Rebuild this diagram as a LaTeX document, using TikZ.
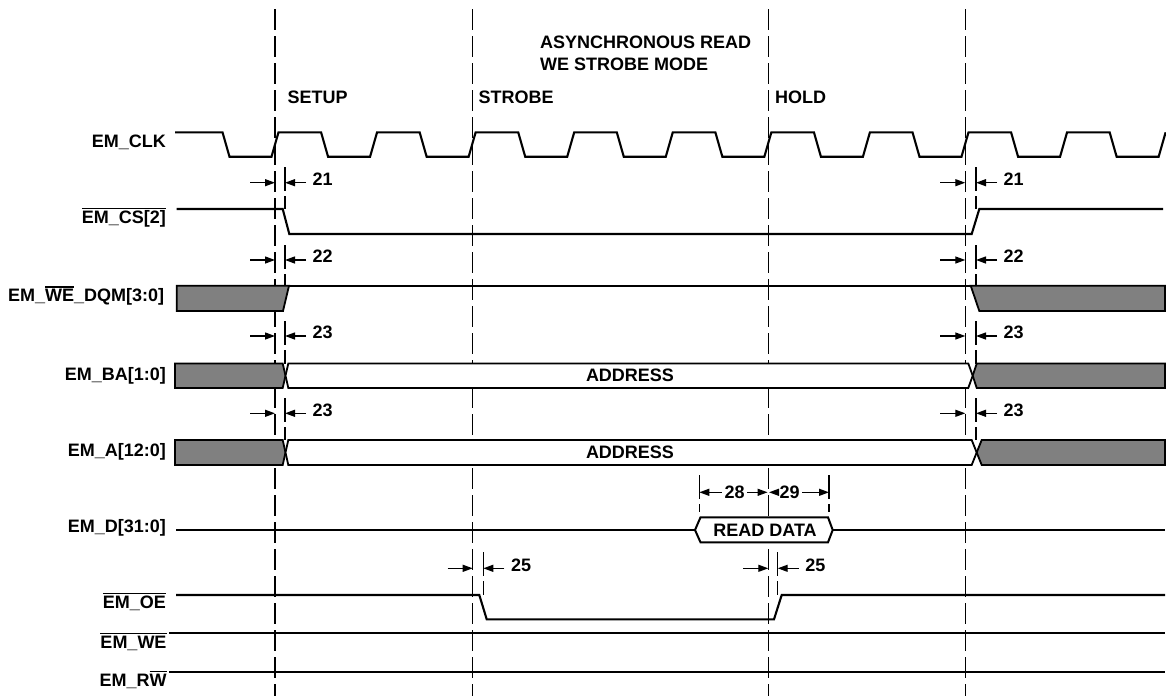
\documentclass[tikz,border=0pt]{standalone}
\usepackage{fontspec}
\setmainfont{Liberation Sans}
\usetikzlibrary{arrows.meta}
\definecolor{busgray}{RGB}{128,128,128}
\newcommand\olx[1]{\setbox0\hbox{#1}\rlap{\rule[14pt]{\wd0}{1.5pt}}\box0}
\begin{document}
\begin{tikzpicture}[x=1pt,y=-1pt,
  sig/.style={line width=2.1pt, line join=miter},
  gridline/.style={line width=1.2pt, dash pattern=on 21pt off 6pt},
  tmark/.style={line width=1.2pt, dash pattern=on 24pt off 5pt},
  dim/.style={line width=1.3pt, -{Triangle[length=10pt,width=7pt]}},
  lbl/.style={font=\fontsize{18}{21}\selectfont\bfseries, inner sep=0pt},
  bus/.style={line width=1.8pt, fill=white, line join=miter},
  bad/.style={line width=1.8pt, fill=busgray, line join=miter}
]
\useasboundingbox (0,0) rectangle (1166,696);

% vertical dashed phase lines
\foreach \x in {275,472.7,768.3,965.3} \draw[gridline] (\x,9.3) -- (\x,696);

% titles
\node[lbl, anchor=base west] (t1) at (540,48) {ASYNCHRONOUS READ};
\node[lbl, anchor=base west] (t2) at (540,70.5) {WE STROBE MODE};
\node[lbl, anchor=base west] (setup) at (287.3,103.5) {SETUP};
\node[lbl, anchor=base west] (strobe) at (478.3,103.5) {STROBE};
\node[lbl, anchor=base west] (hold) at (775,103.5) {HOLD};

% signal names
\node[lbl, anchor=base east] (lclk) at (166,147.5) {EM\_CLK};
\node[lbl, anchor=base east] (lcs) at (166,223.3) {\olx{EM\_CS[2]}};
\node[lbl, anchor=base east] (ldqm) at (164.3,301.7) {EM\_\olx{WE}\_DQM[3:0]};
\node[lbl, anchor=base east] (lba) at (166,380) {EM\_BA[1:0]};
\node[lbl, anchor=base east] (la) at (166,456.7) {EM\_A[12:0]};
\node[lbl, anchor=base east] (ld) at (166,532.5) {EM\_D[31:0]};
\node[lbl, anchor=base east] (loe) at (166,608.3) {\olx{EM\_OE}};
\node[lbl, anchor=base east] (lwe) at (166.7,648.3) {\olx{EM\_WE}};
\node[lbl, anchor=base east] (lrw) at (166.7,686) {EM\_R\olx{W}};

% clock
\draw[sig] (175,132.3) foreach \k in {0,...,9} {
  -- ({226+\k*98.57-3.5},132.3) -- ({226+\k*98.57+3.5},156.7)
  -- ({275+\k*98.57-3.5},156.7) -- ({275+\k*98.57+3.5},132.3) };

% chip select
\draw[sig] (176.7,209) -- (282.7,209) -- (289.3,234) -- (971.7,234) -- (979.3,209) -- (1163,209);

% DQM
\filldraw[bad] (176.7,285.7) -- (289,285.7) -- (283,311) -- (176.7,311) -- cycle;
\draw[sig] (289,285.7) -- (1165,285.7);
\filldraw[bad] (970.7,285.7) -- (1165,285.7) -- (1165,311) -- (979.3,311) -- cycle;

% BA
\filldraw[bad] (175,363.5) -- (282.7,363.5) -- (285.5,375.7) -- (282.7,387.9) -- (175,387.9) -- cycle;
\filldraw[bus] (288.3,363.5) -- (968.3,363.5) -- (972.7,375.7) -- (968.3,387.9) -- (288.3,387.9) -- (285.5,375.7) -- cycle;
\filldraw[bad] (976.7,363.5) -- (1165,363.5) -- (1165,387.9) -- (976.7,387.9) -- (972.7,375.7) -- cycle;
\node[lbl] (addr1) at (630,375.7) {ADDRESS};

% A
\filldraw[bad] (175,440) -- (282.7,440) -- (285.5,452.5) -- (282.7,465) -- (175,465) -- cycle;
\filldraw[bus] (288.3,440) -- (971.7,440) -- (976.7,452.5) -- (971.7,465) -- (288.3,465) -- (285.5,452.5) -- cycle;
\filldraw[bad] (981.7,440) -- (1165,440) -- (1165,465) -- (981.7,465) -- (976.7,452.5) -- cycle;
\node[lbl] (addr2) at (630,452.5) {ADDRESS};

% D
\draw[sig] (176,530) -- (695,530);
\draw[sig] (832.7,530) -- (1165,530);
\filldraw[bus, line width=2pt] (695,530) -- (700.5,517.3) -- (828,517.3) -- (832.7,530) -- (828,542.3) -- (700.5,542.3) -- cycle;
\node[lbl] (rd) at (765,530) {READ DATA};

% OE, WE, RW
\draw[sig] (176,595) -- (479.3,595) -- (486.7,619.3) -- (774,619.3) -- (781.7,595) -- (1165,595);
\draw[sig] (169,633.3) -- (1165,633.3);
\draw[sig] (169,671.7) -- (1165,671.7);

% timing markers (short dashed lines)
\foreach \m in {285,976} {
  \draw[tmark] (\m,167) -- (\m,209);
  \draw[tmark] (\m,245) -- (\m,286);
  \draw[tmark] (\m,321) -- (\m,364);
  \draw[tmark] (\m,398) -- (\m,440);
}
\draw[tmark] (483.3,552) -- (483.3,595);
\draw[tmark] (777.7,552) -- (777.7,595);
\draw[tmark] (699.3,475) -- (699.3,512);
\draw[tmark] (829,475) -- (829,512);

% dimension arrows: main line X, marker M, y, label
\foreach \X/\M/\Y/\T/\N in {275/285/182.7/21/a, 965.3/976/182.7/21/b,
    275/285/260/22/c, 965.3/976/260/22/d,
    275/285/336/23/e, 965.3/976/336/23/f,
    275/285/413.3/23/g, 965.3/976/413.3/23/h,
    472.7/483.3/568.3/25/i, 768.3/777.7/568.3/25/j} {
  \draw[dim] (\X-25,\Y) -- (\X,\Y);
  \draw[dim] (\M+21,\Y) -- (\M,\Y);
  \node[lbl, anchor=base west] (n\N) at (\M+27.5,\Y+2.8) {\T};
}

% 28 / 29
\node[lbl] (n28) at (734.5,492.3) {28};
\node[lbl] (n29) at (789.5,492.3) {29};
\draw[dim] (n28.west) ++(-2.5,0) -- (699.3,492.3);
\draw[dim] (n28.east) ++(2.5,0) -- (767.6,492.3);
\draw[dim] (n29.west) ++(-2.5,0) -- (769,492.3);
\draw[dim] (n29.east) ++(2.5,0) -- (829,492.3);
\end{tikzpicture}
\end{document}
